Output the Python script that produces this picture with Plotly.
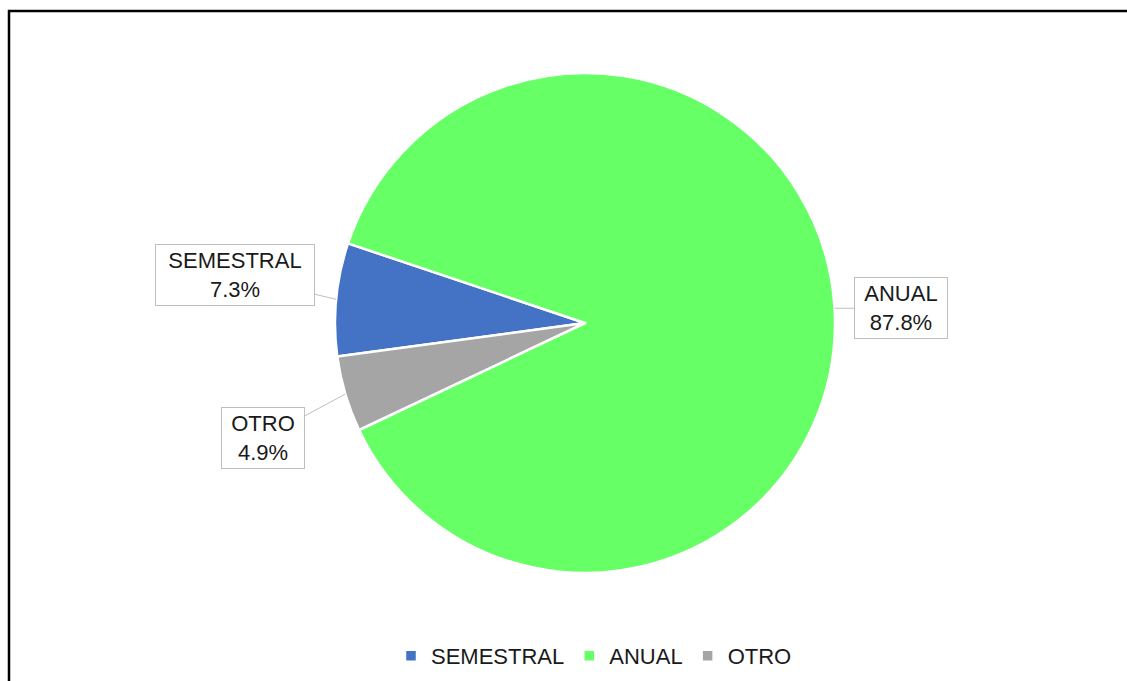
import math
import plotly.graph_objects as go

# Distribución por tipo de periodo
categorias = ["SEMESTRAL", "ANUAL", "OTRO"]
porcentajes = [7.3, 87.8, 4.9]
colores = ["#4472C4", "#66FF66", "#A5A5A5"]

W, H = 1127, 681
FONT = "Liberation Sans, Arial, sans-serif"

# pie placement in pixels (margins are zero, so paper == page)
cx, cy, r = 585, 323, 250
dom_x = [(cx - r) / W, (cx + r) / W]
dom_y = [1 - (cy + r) / H, 1 - (cy - r) / H]
rotation = 262.3

fig = go.Figure(
    go.Pie(
        labels=categorias,
        values=porcentajes,
        marker=dict(colors=colores, line=dict(color="white", width=2.5)),
        sort=False,
        direction="clockwise",
        rotation=rotation,
        textinfo="none",
        domain=dict(x=dom_x, y=dom_y),
        hoverinfo="label+percent",
    )
)

# callout boxes: offset of the box centre from the slice edge, and box size
offsets = {"SEMESTRAL": (-101, -24, 152), "ANUAL": (66, 0, 86), "OTRO": (-82, 44, 76)}

total = sum(porcentajes)
ang = rotation
for cat, val in zip(categorias, porcentajes):
    span = val / total * 360
    mid = math.radians(ang + span / 2)
    ang += span
    px = cx + r * math.sin(mid)
    py = cy - r * math.cos(mid)
    ax, ay, w = offsets[cat]
    fig.add_annotation(
        x=px / W, y=1 - py / H, xref="paper", yref="paper",
        text=f"{cat}<br>{val:.1f}%",
        showarrow=True, arrowhead=0, arrowwidth=1, arrowcolor="#bfbfbf",
        ax=ax, ay=ay,
        bgcolor="white", bordercolor="#bfbfbf", borderwidth=1, borderpad=3,
        width=w, height=54,
        font=dict(family=FONT, size=22, color="#1a1a1a"),
    )

# outer frame
fig.add_shape(
    type="rect", xref="paper", yref="paper",
    x0=9 / W, y0=1 - 11 / H, x1=1.02, y1=-0.02,
    line=dict(color="black", width=2.5), fillcolor="rgba(0,0,0,0)",
)

fig.update_layout(
    width=W, height=H,
    margin=dict(l=0, r=0, t=0, b=0),
    paper_bgcolor="white", plot_bgcolor="white",
    font=dict(family=FONT, size=22, color="#1a1a1a"),
    showlegend=True,
    legend=dict(
        orientation="h", x=594 / W, xanchor="center",
        y=1 - 656 / H, yanchor="middle",
        font=dict(family=FONT, size=22, color="#1a1a1a"),
        itemwidth=30, tracegroupgap=0,
    ),
)

fig.write_html("out.html")
